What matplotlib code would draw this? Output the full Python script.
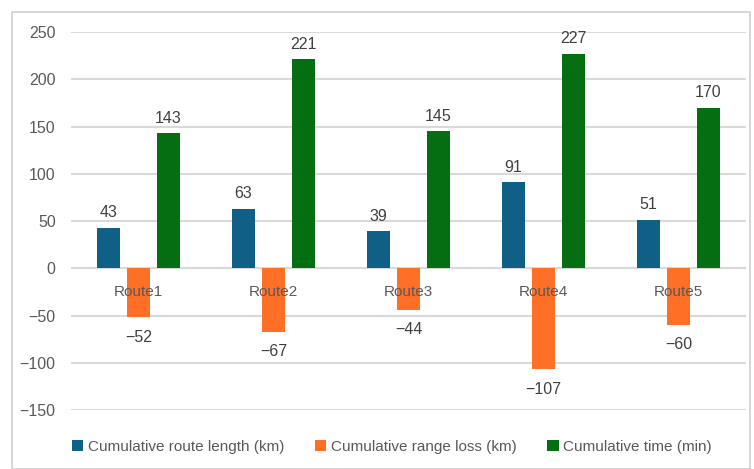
import matplotlib
matplotlib.use("Agg")
import matplotlib.pyplot as plt
import numpy as np
from matplotlib.patches import Rectangle

routes = ["Route1", "Route2", "Route3", "Route4", "Route5"]
route_length = [43, 63, 39, 91, 51]
range_loss = [-52, -67, -44, -107, -60]
cum_time = [143, 221, 145, 227, 170]
series_names = ["Cumulative route length (km)", "Cumulative range loss (km)", "Cumulative time (min)"]
colors = ["#0F5F86", "#FF6F26", "#066E12"]
yticks = [-150, -100, -50, 0, 50, 100, 150, 200, 250]

plt.rcParams['font.family'] = ['Liberation Sans', 'DejaVu Sans']

fig = plt.figure(figsize=(7.54, 4.69), dpi=100)
fig.patches.append(Rectangle((12/754, 0), 738/754, 1 - 12/469, transform=fig.transFigure,
                             fill=False, edgecolor="#D0D0D0", linewidth=1.2))
ax = fig.add_axes([71/754, 1 - 410/469, 675/754, (410 - 32)/469])

x = np.arange(len(routes))
w = 0.17
off = 0.222
data = [route_length, range_loss, cum_time]
for i, (vals, c, name) in enumerate(zip(data, colors, series_names)):
    pos = x + (i - 1) * off
    ax.bar(pos, vals, width=w, color=c, label=name, zorder=3)
    for p, v in zip(pos, vals):
        txt = f"{v}".replace("-", "\u2212")
        if v >= 0:
            ax.text(p, v + 8, txt, ha="center", va="bottom", fontsize=11.5, color="#404040", zorder=5)
        else:
            ax.text(p, v - 13, txt, ha="center", va="top", fontsize=11.5, color="#404040", zorder=5)

for xi, r in zip(x, routes):
    ax.text(xi, -25, r, ha="center", va="center", fontsize=11, color="#595959", zorder=6)

ax.set_xlim(-0.5, len(routes) - 0.5)
ax.set_ylim(-150, 250)
ax.set_yticks(yticks)
ax.set_yticklabels([str(t).replace("-", "\u2212") for t in yticks], fontsize=11.5, color="#595959")
ax.set_xticks([])
ax.tick_params(axis="y", length=0, pad=11)
ax.grid(axis="y", color="#D9D9D9", linewidth=1.5, zorder=0)
for s in ax.spines.values():
    s.set_visible(False)

leg = fig.legend(loc="center", bbox_to_anchor=(392/754, 1 - 447/469), ncol=3, frameon=False,
                 fontsize=11, handlelength=0.75, handleheight=0.75, handletextpad=0.3, columnspacing=2.0)
for t in leg.get_texts():
    t.set_color("#595959")

fig.savefig("out.png", dpi=100)
